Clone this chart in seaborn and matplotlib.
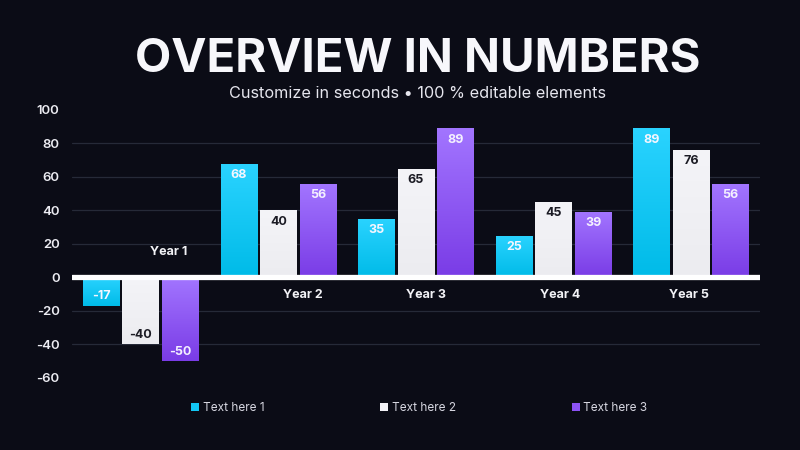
import numpy as np
import pandas as pd
import matplotlib
matplotlib.use("Agg")
import matplotlib.pyplot as plt
import seaborn as sns
from matplotlib.patches import Patch
from matplotlib.colors import LinearSegmentedColormap

# données du graphique
years = ["Year 1", "Year 2", "Year 3", "Year 4", "Year 5"]
series_names = ["Text here 1", "Text here 2", "Text here 3"]
values_1 = [-17, 68, 35, 25, 89]
values_2 = [-40, 40, 65, 45, 76]
values_3 = [-50, 56, 89, 39, 56]
y_ticks = [-60, -40, -20, 0, 20, 40, 60, 80, 100]

BG = "#0b0c16"
base_colors = ["#12c6f4", "#f2f2f6", "#8c52f4"]
grad_colors = [("#2ad3ff", "#00bbe8"), ("#f4f4f8", "#ececf0"), ("#a275ff", "#7a3ce6")]
label_colors = ["#f4f6ff", "#1b1b24", "#f4f0ff"]

df = pd.DataFrame({
    "year": years * 3,
    "serie": np.repeat(series_names, len(years)),
    "value": values_1 + values_2 + values_3,
})

sns.set_theme(style="dark")
plt.rcParams["font.family"] = ["Inter", "DejaVu Sans"]

fig = plt.figure(figsize=(8, 4.5), dpi=100, facecolor=BG)
ax = fig.add_axes([0.09, 0.16, 0.86, 0.5956])
ax.set_facecolor(BG)

sns.barplot(data=df, x="year", y="value", hue="serie", hue_order=series_names,
            palette=base_colors, width=0.86, gap=0.07, saturation=1,
            edgecolor="none", linewidth=0, legend=False, ax=ax)

# dégradé vertical dans chaque barre
for i, cont in enumerate(ax.containers):
    cmap = LinearSegmentedColormap.from_list(f"g{i}", [grad_colors[i][1], grad_colors[i][0]])
    for bar in cont:
        x0, w = bar.get_x(), bar.get_width()
        y0, h = bar.get_y(), bar.get_height()
        lo, hi = min(y0, y0 + h), max(y0, y0 + h)
        grad = np.linspace(0, 1, 64).reshape(-1, 1)
        im = ax.imshow(grad, extent=(x0, x0 + w, lo, hi), origin="lower",
                       cmap=cmap, aspect="auto", zorder=bar.get_zorder() + 0.1)
        im.set_clip_path(bar)
        val = bar.get_height()
        off = -8 if val >= 0 else 7
        ax.annotate(f"{val:.0f}", (x0 + w / 2, val), xytext=(0, off),
                    textcoords="offset points", ha="center", va="center",
                    fontsize=9, fontweight="bold", color=label_colors[i], zorder=5)

ax.set_xlim(-0.5, 4.5)
ax.set_ylim(-60, 100)
ax.set_yticks(y_ticks)
ax.set_yticklabels([str(t) for t in y_ticks])
ax.tick_params(axis="y", length=0, pad=9, labelsize=9.5, labelcolor="#ececf2")
ax.tick_params(axis="x", length=0)
ax.set_xticklabels([])
ax.set_xlabel("")
ax.set_ylabel("")
for lab in ax.get_yticklabels():
    lab.set_fontweight("semibold")

ax.yaxis.grid(True, color="#262a38", linewidth=0.9)
ax.xaxis.grid(False)
ax.set_axisbelow(True)
gl = ax.get_ygridlines()
gl[0].set_visible(False)
gl[-1].set_visible(False)
for s in ax.spines.values():
    s.set_visible(False)

ax.axhline(0, color="white", linewidth=3.8, zorder=4)

# étiquettes des années au-dessus / au-dessous de la ligne zéro
nudge = [0.2, 0.18, 0.07, 0.05, -0.02]
for i, yr in enumerate(years):
    neg = values_1[i] < 0
    ax.annotate(yr, (i + nudge[i], 0), xytext=(0, 18.5 if neg else -12.5),
                textcoords="offset points", ha="center", va="center",
                fontsize=9, fontweight="bold", color="#f2f2f6", zorder=5)

fig.text(0.522, 0.84, "OVERVIEW IN NUMBERS", ha="center", va="baseline",
         fontsize=34, fontweight="bold", color="#f7f7fb")
fig.text(0.522, 0.782, "Customize in seconds \u2022 100 % editable elements",
         ha="center", va="baseline", fontsize=11.7, color="#e6e6ee")

handles = [Patch(facecolor=c, edgecolor="none") for c in base_colors]
fig.legend(handles, series_names, loc="center", bbox_to_anchor=(0.524, 0.093),
           ncol=3, frameon=False, fontsize=8.5, labelcolor="#d6d6e0",
           handlelength=0.7, handleheight=0.7, handletextpad=0.3,
           columnspacing=9.8)

fig.savefig("out.png", dpi=100, facecolor=BG)
